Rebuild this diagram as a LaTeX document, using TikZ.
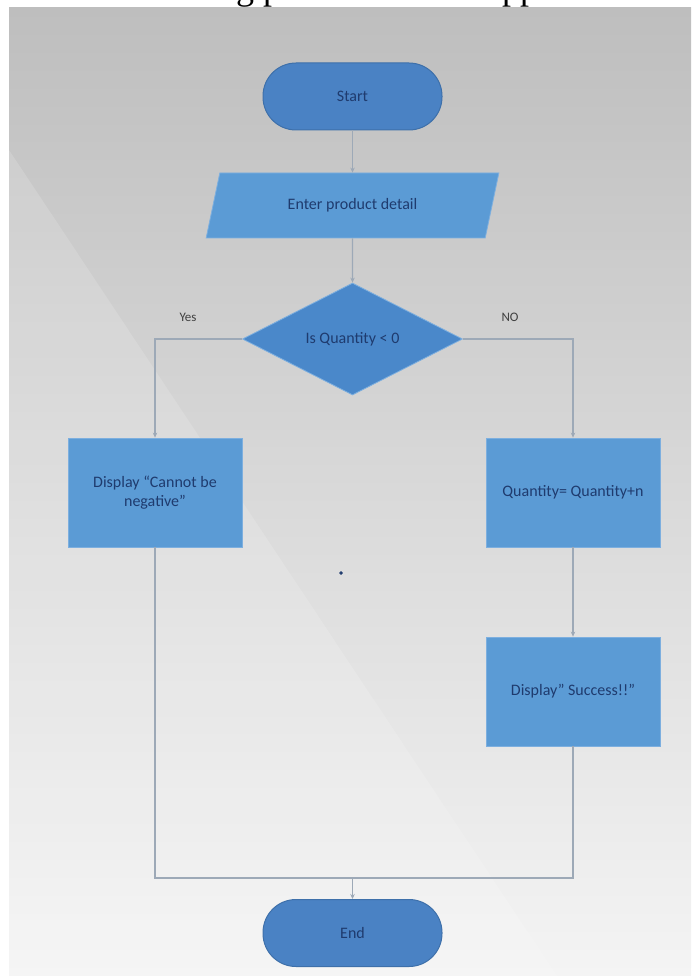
\documentclass[tikz,border=0pt]{standalone}
\usepackage{fontspec}
\setmainfont{Carlito}
\newfontfamily\pageserif{Liberation Serif}
\usetikzlibrary{shapes.geometric,arrows.meta}
\definecolor{termblue}{HTML}{4A82C4}
\definecolor{termedge}{HTML}{3E70AA}
\definecolor{boxblue}{HTML}{5B9BD5}
\definecolor{boxedge}{HTML}{7DAFDF}
\definecolor{diamblue}{HTML}{4A88CA}
\definecolor{navytext}{HTML}{1F3B6E}
\definecolor{linegray}{HTML}{9DA9B7}
\definecolor{bgtop}{HTML}{BEBEBE}
\definecolor{bgmid}{HTML}{D3D3D3}
\definecolor{bgbot}{HTML}{F4F4F4}
\begin{document}
\begin{tikzpicture}[x=1pt,y=-1pt,
  every node/.style={font=\fontsize{16}{19}\selectfont, text=navytext},
  terminal/.style={rectangle, rounded corners=33pt, minimum width=179pt, minimum height=67pt, fill=termblue, draw=termedge, line width=1pt},
  inputbox/.style={trapezium, trapezium left angle=64, trapezium right angle=116, trapezium stretches=true, minimum width=293pt, minimum height=65pt, inner sep=0pt, fill=boxblue, draw=boxedge, line width=0.8pt},
  decision/.style={diamond, aspect=2, minimum width=220pt, minimum height=112pt, inner sep=0pt, fill=diamblue, draw=boxedge, line width=0.8pt},
  procbox/.style={rectangle, minimum width=174pt, minimum height=109pt, align=center, fill=boxblue, draw=boxedge, line width=0.8pt},
  branch/.style={font=\fontsize{13}{15}\selectfont, text=black!75},
  link/.style={draw=linegray, line width=1.3pt},
  flow/.style={link, -{Stealth[length=5pt,width=4.5pt]}},
]
\useasboundingbox (0,0) rectangle (691,976);
% page behind the screenshot
\fill[white] (0,0) rectangle (691,976);
\node[font=\pageserif\fontsize{36}{40}\selectfont, text=black, anchor=base west, inner sep=0pt] (cuta) at (236,-0.8) {g p};
\node[font=\pageserif\fontsize{36}{40}\selectfont, text=black, anchor=base west, inner sep=0pt] (cutb) at (502,-0.8) {pp};
\shade[top color=bgtop, middle color=bgmid, bottom color=bgbot] (9,7.5) rectangle (691,976);
\fill[white, fill opacity=0.15] (9,150) -- (557,976) -- (9,976) -- cycle;

% flowchart
\node[terminal] (start) at (352.5,96.5) {Start};
\node[inputbox] (input) at (352.5,205.5) {Enter product detail};
\node[decision] (check) at (352.5,339) {Is Quantity < 0};
\node[procbox] (neg) at (155,492.5) {Display “Cannot be\\negative”};
\node[procbox] (add) at (573,492.5) {Quantity= Quantity+n};
\node[procbox] (succ) at (573,691.5) {Display” Success!!”};
\node[terminal] (end) at (352.5,933) {End};
\coordinate (merge) at (352.5,878);
\node[branch] (yes) at (188,317) {Yes};
\node[branch] (no) at (510,317) {NO};
\filldraw[navytext] (341,573) circle (1.5pt);

\draw[flow] (start) -- (input);
\draw[flow] (input) -- (check);
\draw[flow] (check.west) -| (neg.north);
\draw[flow] (check.east) -| (add.north);
\draw[flow] (add) -- (succ);
\draw[link] (neg.south) |- (merge);
\draw[link] (succ.south) |- (merge);
\draw[flow] (merge) -- (end);
\end{tikzpicture}
\end{document}
